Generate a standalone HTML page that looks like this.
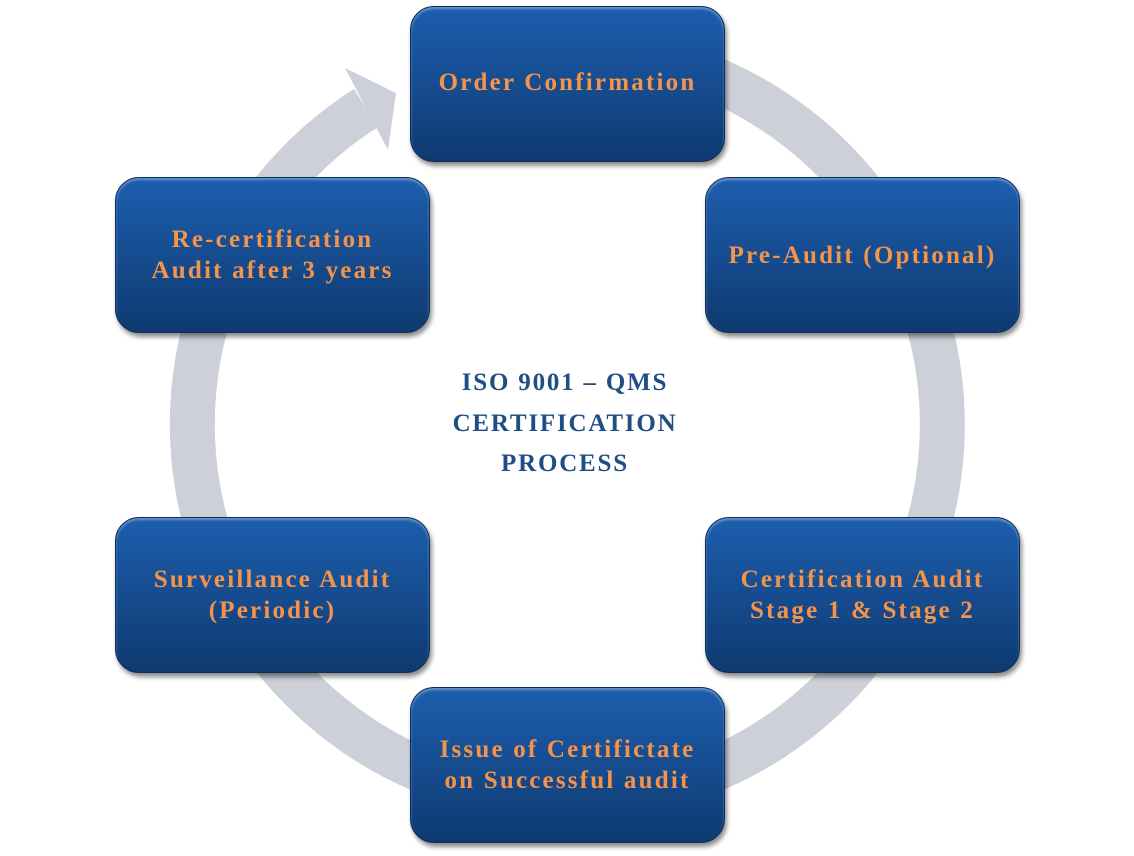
<!DOCTYPE html>
<html><head><style>
body{margin:0;width:1134px;height:856px;background:#fff;position:relative;overflow:hidden;font-family:"Liberation Serif",serif}
.b{position:absolute;width:313px;height:154px;border-radius:24px;background:linear-gradient(#1d5eae,#164c90 50%,#0e3a70);border:1px solid #0b2d5a;box-shadow:2px 4px 5px rgba(0,0,0,.45),inset 0 2px 2px rgba(255,255,255,.35);display:flex;align-items:center;justify-content:center;text-align:center;color:#f4944a;font-weight:bold;font-size:25px;line-height:31px;letter-spacing:2.2px}
.c{position:absolute;left:390px;top:363px;width:350px;text-align:center;color:#1f4e84;font-weight:bold;font-size:25px;line-height:40.5px;letter-spacing:1.8px}
</style></head><body>
<svg width="1134" height="856" style="position:absolute;left:0;top:0">
<path d="M632 55 A375 375 0 1 1 366 108" fill="none" stroke="#cdd0d9" stroke-width="45"/>
<polygon points="345,68 396,93 388,150 366,108" fill="#cdd0d9"/>
</svg>
<div class="b" style="left:410px;top:6px"><span style="position:relative;top:-2px">Order Confirmation</span></div>
<div class="b" style="left:705px;top:177px">Pre-Audit (Optional)</div>
<div class="b" style="left:705px;top:517px">Certification Audit<br>Stage 1 &amp; Stage 2</div>
<div class="b" style="left:410px;top:687px">Issue of Certifictate<br>on Successful audit</div>
<div class="b" style="left:115px;top:517px">Surveillance Audit<br>(Periodic)</div>
<div class="b" style="left:115px;top:177px">Re-certification<br>Audit after 3 years</div>
<div class="c">ISO 9001 – QMS<br>CERTIFICATION<br>PROCESS</div>
</body></html>
